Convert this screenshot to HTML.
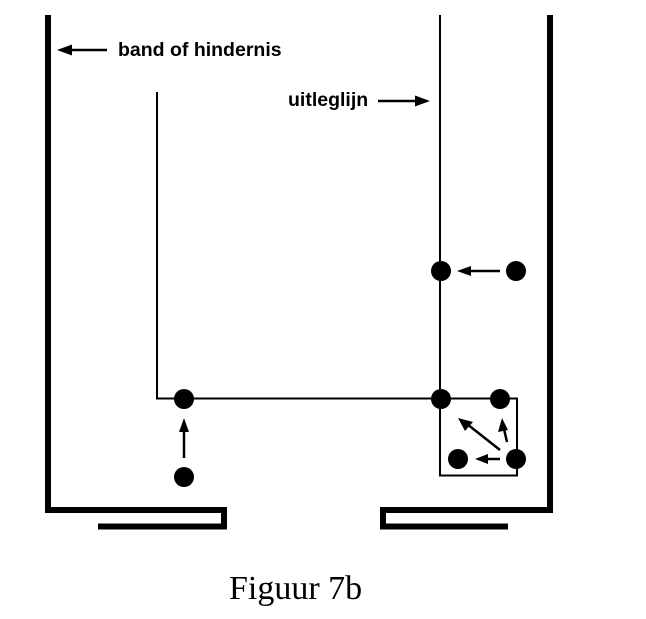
<!DOCTYPE html>
<html>
<head>
<meta charset="utf-8">
<style>
html,body{margin:0;padding:0;background:#fff;}
svg{display:block;}
</style>
</head>
<body>
<svg width="646" height="619" viewBox="0 0 646 619" xmlns="http://www.w3.org/2000/svg">
  <rect width="646" height="619" fill="#fff"/>
  <!-- left wall -->
  <path d="M48 15 V510 H224 V526.5 H98" fill="none" stroke="#000" stroke-width="6"/>
  <!-- right wall -->
  <path d="M550 15 V510 H383 V526.5 H508" fill="none" stroke="#000" stroke-width="6"/>
  <!-- thin lines -->
  <path d="M157 92 V398.5 H440" fill="none" stroke="#000" stroke-width="2"/>
  <line x1="440" y1="15" x2="440" y2="399" stroke="#000" stroke-width="2"/>
  <rect x="440" y="398.5" width="77" height="77" fill="none" stroke="#000" stroke-width="2"/>
  <!-- dots -->
  <g fill="#000">
    <circle cx="441" cy="271" r="10"/>
    <circle cx="516" cy="271" r="10"/>
    <circle cx="184" cy="399" r="10"/>
    <circle cx="441" cy="399" r="10"/>
    <circle cx="500" cy="399" r="10"/>
    <circle cx="458" cy="459" r="10"/>
    <circle cx="516" cy="459" r="10"/>
    <circle cx="184" cy="477" r="10"/>
  </g>
  <!-- arrows -->
  <g stroke="#000" stroke-width="2.5" fill="none">
    <line x1="107" y1="50" x2="68" y2="50"/>
    <line x1="378" y1="101" x2="418" y2="101"/>
    <line x1="500" y1="271" x2="468" y2="271"/>
    <line x1="184" y1="458" x2="184" y2="430"/>
    <line x1="500" y1="459" x2="485" y2="459"/>
    <line x1="500" y1="450" x2="467" y2="424"/>
    <line x1="507" y1="442" x2="504" y2="429"/>
  </g>
  <g fill="#000">
    <polygon points="57,50 72,44.5 72,55.5"/>
    <polygon points="430,101 415,95.5 415,106.5"/>
    <polygon points="457,271 471,266 471,276"/>
    <polygon points="184,418 179,432 189,432"/>
    <polygon points="475,459 488,454 488,464"/>
    <polygon points="458,418 473,422 465,431"/>
    <polygon points="502,418 498,432 508,430"/>
  </g>
  <!-- labels -->
  <text x="118" y="56" font-family="Liberation Sans, Arial, sans-serif" font-weight="bold" font-size="19.5" fill="#000">band of hindernis</text>
  <text x="288" y="106" font-family="Liberation Sans, Arial, sans-serif" font-weight="bold" font-size="19.5" fill="#000">uitleglijn</text>
  <text x="229" y="599" font-family="Liberation Serif, 'Times New Roman', serif" font-size="34" fill="#000">Figuur 7b</text>
</svg>
</body>
</html>
